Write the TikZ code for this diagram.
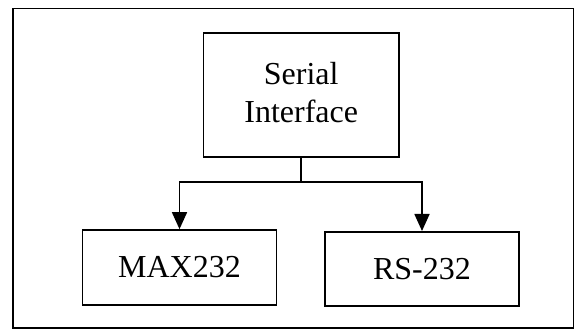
\documentclass[tikz,border=0pt]{standalone}
\usepackage{fontspec}
\setmainfont{Liberation Serif}
\usetikzlibrary{arrows.meta}
\begin{document}
\begin{tikzpicture}[x=1pt,y=-1pt,
  line width=1.7pt,
  blockbox/.style={draw, inner sep=0pt, align=center,
    font=\fontsize{32}{38}\selectfont},
  feed/.style={-{Triangle[length=17pt,width=15pt]}}]
  \useasboundingbox[fill=white] (0,0) rectangle (582,334);
  % outer frame
  \draw (13,8.5) rectangle (573.5,328);
  % blocks
  \node[blockbox, minimum width=195.6pt, minimum height=123.4pt] (serial) at (301.2,95) {Serial\\Interface\\[-32pt]\mbox{}};
  \node[blockbox, minimum width=194pt, minimum height=75pt] (max) at (179.5,267.5) {MAX232};
  \node[blockbox, minimum width=194pt, minimum height=74.3pt] (rs) at (422,269) {RS-232};
  % branching connector
  \draw (serial.south) -- (serial.south |- 0,181.7) coordinate (j);
  \draw[feed] (j) -| (max.north);
  \draw[feed] (j) -| (rs.north);
\end{tikzpicture}
\end{document}
